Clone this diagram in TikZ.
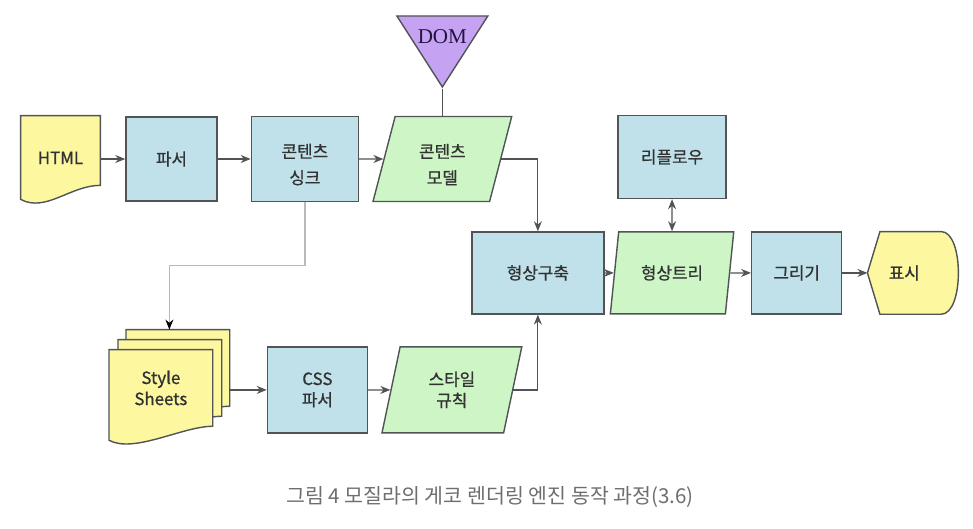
\documentclass[tikz,border=0pt]{standalone}
\usepackage{fontspec}
\newfontfamily\kofont[FakeBold=0.8]{Noto Sans CJK KR}
\newfontfamily\captionfont{Noto Sans CJK KR}
\newfontfamily\domfont{Liberation Serif}
\usetikzlibrary{shapes.geometric, arrows.meta, positioning, calc, backgrounds}
\definecolor{boxblue}{RGB}{192,225,234}
\definecolor{datagreen}{RGB}{206,245,198}
\definecolor{docyellow}{RGB}{253,247,160}
\definecolor{dompurple}{RGB}{198,162,242}
\definecolor{domtext}{RGB}{35,20,70}
\definecolor{edgegray}{RGB}{80,84,86}
\definecolor{labelgray}{RGB}{50,50,50}
\definecolor{sinkgray}{RGB}{185,185,185}
\definecolor{captiongray}{RGB}{110,110,110}
\tikzstyle{process} = [rectangle, minimum height=1.68cm, text centered, align=center, draw=edgegray, line width=0.8pt, fill=boxblue, text=labelgray, font=\kofont\fontsize{9.6}{12}\selectfont]
\tikzstyle{dataio} = [trapezium, trapezium left angle=78, trapezium right angle=102, trapezium stretches=true, minimum height=1.7cm, text centered, align=center, draw=edgegray, line width=0.8pt, fill=datagreen, text=labelgray, font=\kofont\fontsize{9.6}{12}\selectfont]
\tikzstyle{docpage} = [rectangle, inner sep=0pt, minimum width=2.06cm, minimum height=1.52cm, text centered, align=center, text=labelgray, font=\kofont\fontsize{9.6}{12}\selectfont]
\tikzstyle{docline} = [draw=edgegray, line width=0.8pt, fill=docyellow]
\tikzstyle{displaybox} = [rectangle, minimum width=1.46cm, minimum height=1.64cm, text=labelgray, font=\kofont\fontsize{9.6}{12}\selectfont]
\tikzstyle{domtri} = [isosceles triangle, isosceles triangle stretches, shape border rotate=270, minimum width=1.82cm, minimum height=1.42cm, inner sep=0pt, draw=edgegray, line width=0.8pt, fill=dompurple]
\tikzstyle{arrow} = [line width=0.7pt, draw=edgegray, -{Stealth[length=2mm, width=1.6mm]}]

\begin{document}
\begin{tikzpicture}
    \useasboundingbox (0,0) rectangle (19.46,-10.56);

    \node (parser) [process, minimum width=1.82cm] at (3.43,-3.18) {파서};
    \node (html) [docpage, minimum width=1.58cm, minimum height=1.38cm, text height=0.54cm, left=0.5cm of parser, yshift=0.17cm] {HTML};
    \node (sink) [process, minimum width=2.14cm, minimum height=1.7cm, right=0.66cm of parser] {\rule{0pt}{0.5cm}콘텐츠\\[3pt]싱크};
    \node (model) [dataio, minimum width=2.78cm, anchor=bottom left corner] at ($(sink.south east)+(0.26,0)$) {\rule{0pt}{0.5cm}콘텐츠\\[3pt]모델};
    \node (dom) [domtri, anchor=apex, label={[anchor=center, yshift=-0.42cm, text=domtext, font=\domfont\fontsize{12}{14}\selectfont]north:DOM}] at ($(model.north)+(0,0.54)$) {};
    \node (build) [process, minimum width=2.64cm, minimum height=1.64cm, below=0.58cm of model, xshift=1.91cm] {형상구축};
    \node (tree) [dataio, minimum width=2.48cm, minimum height=1.64cm, anchor=bottom left corner] at ($(build.south east)+(0.1,0)$) {형상트리};
    \node (reflow) [process, minimum width=2.16cm, minimum height=1.66cm, above=0.64cm of tree] {리플로우};
    \node (paint) [process, minimum width=1.8cm, minimum height=1.64cm, right=0.5cm of tree.bottom right corner, anchor=south west] {그리기};
    \node (disp) [displaybox, right=0.5cm of paint] {표시};
    \node (css) [process, minimum width=2cm, minimum height=1.72cm, below=2.88cm of sink, xshift=0.25cm] {CSS\\파서};
    \node (rules) [dataio, minimum width=2.8cm, minimum height=1.72cm, anchor=bottom left corner] at ($(css.south east)+(0.26,0)$) {스타일\\규칙};
    \node (sheets) [docpage, left=1.08cm of css, yshift=0.04cm] {Style\\Sheets};
    \node (sheetsmid) [docpage, xshift=0.18cm, yshift=0.2cm] at (sheets) {};
    \node (sheetsback) [docpage, xshift=0.34cm, yshift=0.4cm] at (sheets) {};

    % document and display outlines
    \begin{scope}[on background layer]
        \foreach \d in {sheetsback, sheetsmid, sheets, html}
            \draw [docline] (\d.north west) -- (\d.north east) -- (\d.south east) .. controls ($(\d.south east)+(-0.6,0)$) and ($(\d.south west)+(0.5,-0.55)$) .. ($(\d.south west)+(0,-0.28)$) -- cycle;
        \draw [docline] (disp.west) -- ($(disp.north west)+(0.25,0)$) -- (disp.north east) .. controls ($(disp.north east)+(0.46,0)$) and ($(disp.south east)+(0.46,0)$) .. (disp.south east) -- ($(disp.south west)+(0.25,0)$) -- cycle;
    \end{scope}

    \draw [arrow] (html.east |- parser.west) -- (parser);
    \draw [arrow] (parser) -- (sink);
    \draw [arrow] (sink) -- (model);
    \draw [line width=0.7pt, draw=edgegray] (dom.apex) -- (model.north);
    \draw [arrow] (model.east) -| (build.north);
    \draw [arrow] (build) -- (tree);
    \draw [arrow, {Stealth[length=2mm, width=1.6mm]}-{Stealth[length=2mm, width=1.6mm]}] (reflow) -- (tree);
    \draw [arrow] (tree) -- (paint);
    \draw [arrow] (paint) -- (disp.west);
    \draw [arrow, draw=sinkgray, -{Stealth[length=2mm, width=1.6mm, color=black]}] (sink.south) -- ++(0,-1.26) -| ($(sheetsback.north)+(-0.17,0)$);
    \draw [arrow] (sheetsback.east |- css.west) -- (css.west);
    \draw [arrow] (css) -- (rules);
    \draw [arrow] (rules.east) -| (build.south);

    \node (caption) [font=\captionfont\fontsize{11.7}{14}\selectfont, text=captiongray] at (9.8,-9.94) {그림 4 모질라의 게코 렌더링 엔진 동작 과정(3.6)};
\end{tikzpicture}
\end{document}
